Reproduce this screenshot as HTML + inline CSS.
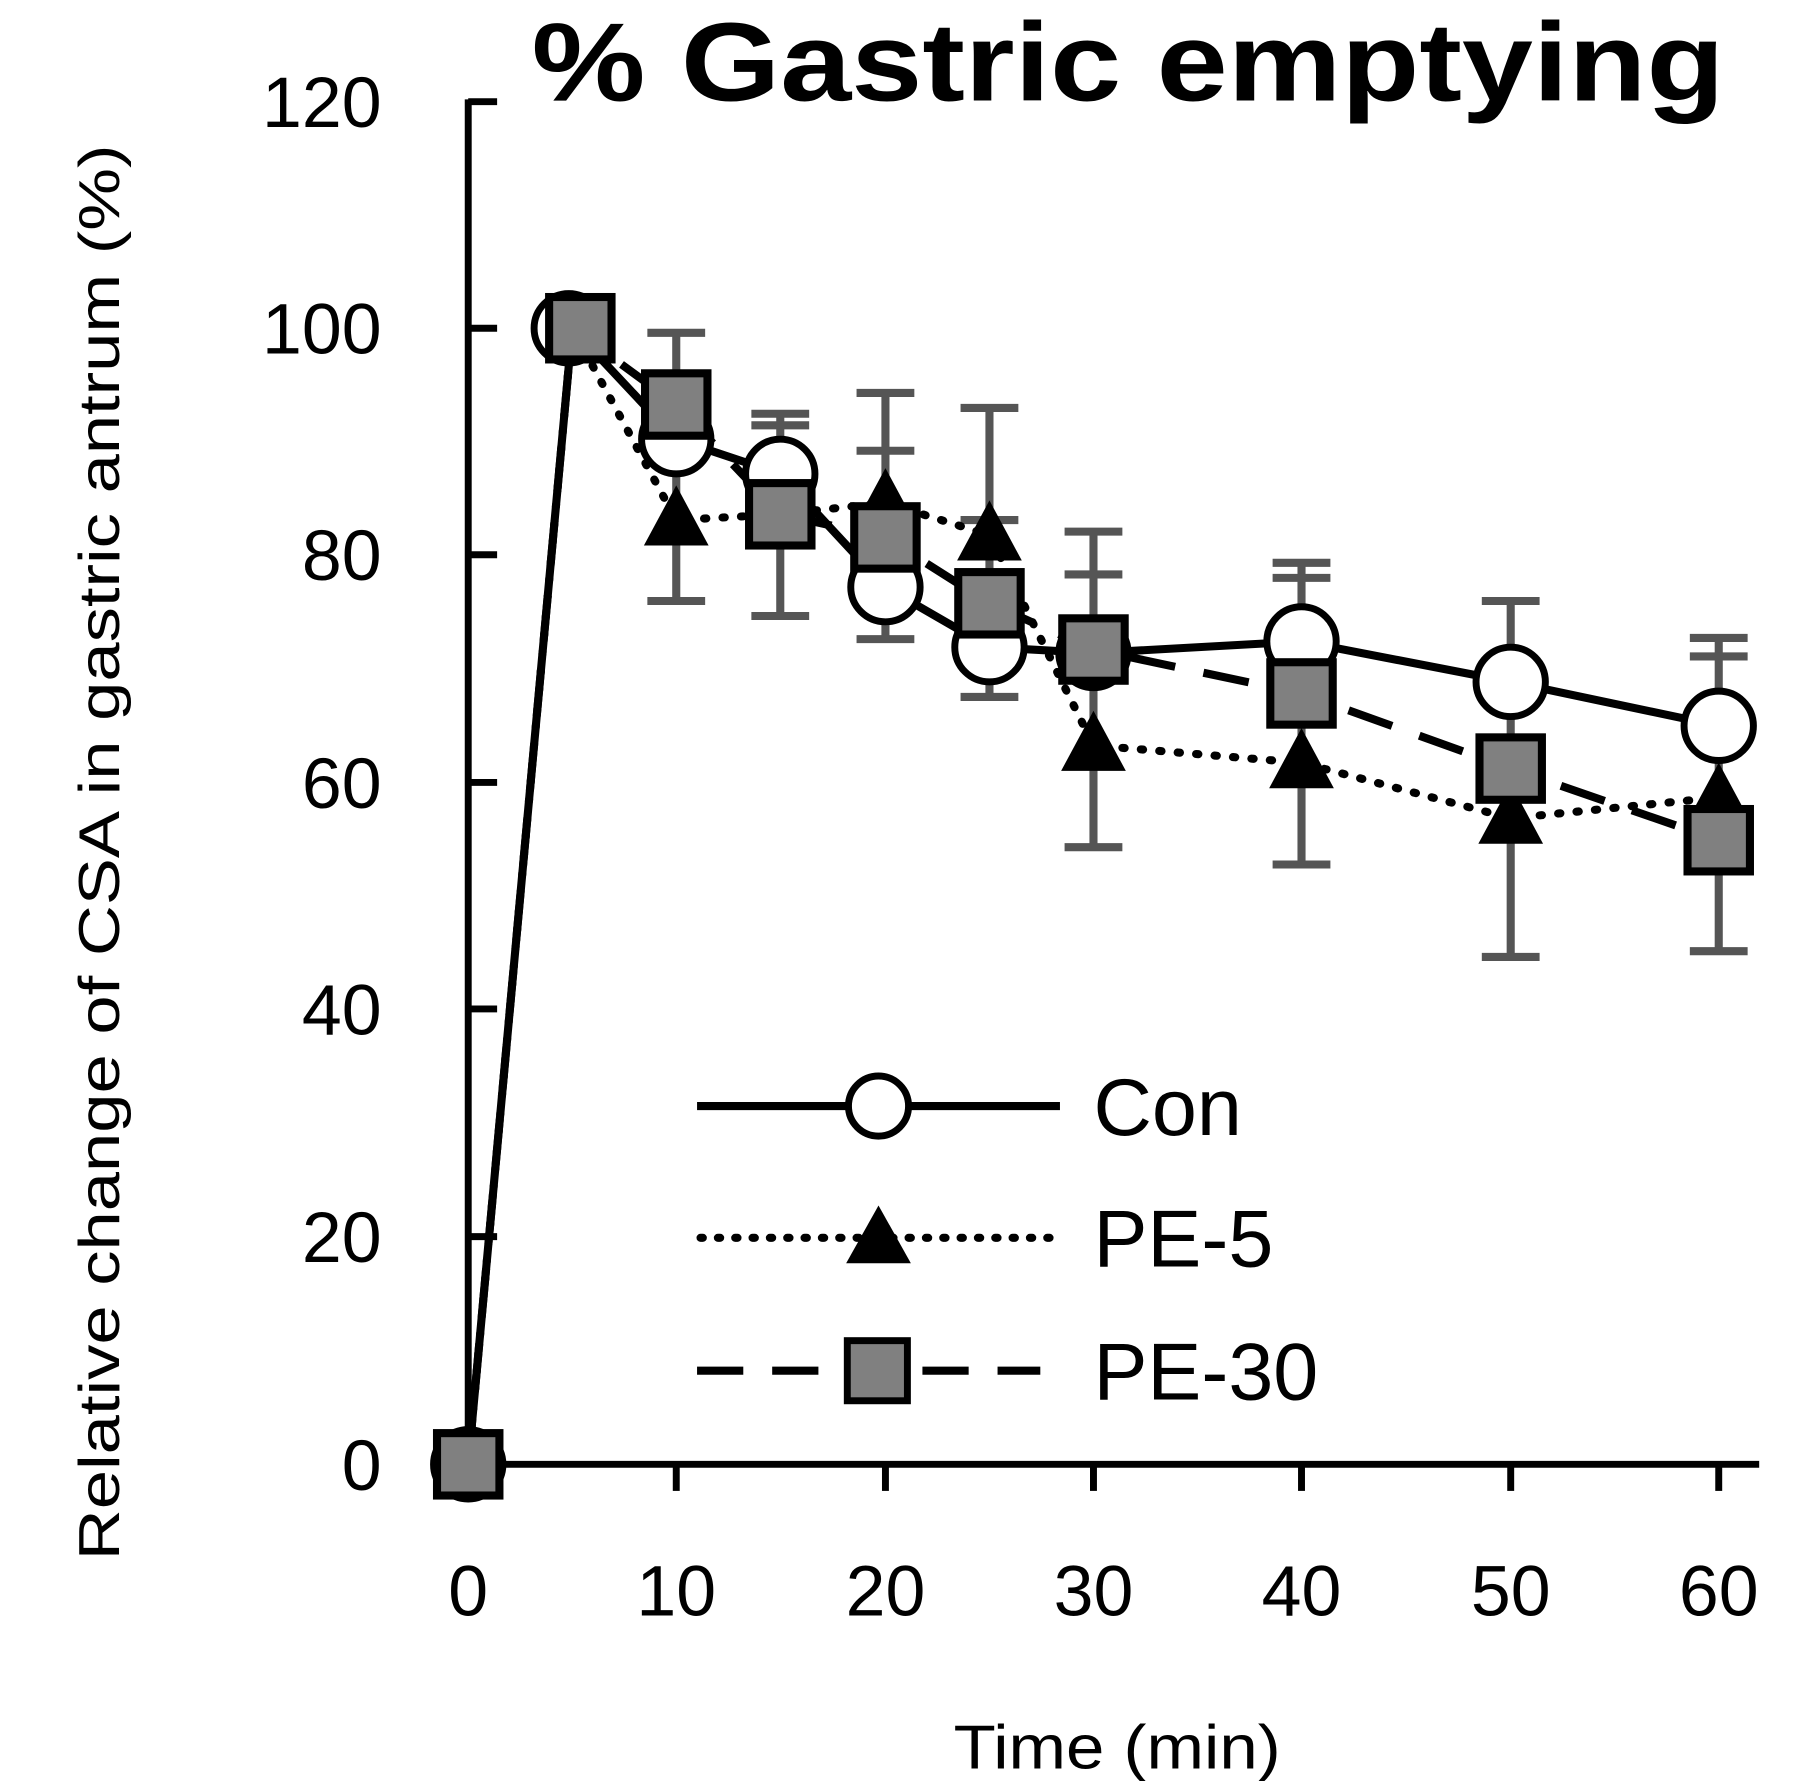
<!DOCTYPE html>
<html><head><style>html,body{margin:0;padding:0;background:#fff}svg{display:block}</style></head>
<body>
<svg width="1794" height="1781" viewBox="0 0 1552 1541" xmlns="http://www.w3.org/2000/svg" font-family="Liberation Sans, Arial, sans-serif">
<rect width="1552" height="1541" fill="#fff"/>
<text x="460" y="87" font-size="96" font-weight="bold" textLength="1032" lengthAdjust="spacingAndGlyphs">% Gastric emptying</text>
<!-- axes -->
<g stroke="#000" stroke-width="6" fill="none">
<line x1="405" y1="86" x2="405" y2="1267"/>
<line x1="403" y1="1267" x2="1522" y2="1267"/>
<line x1="405" y1="88" x2="430" y2="88"/>
<line x1="405" y1="284" x2="430" y2="284"/>
<line x1="405" y1="480" x2="430" y2="480"/>
<line x1="405" y1="677" x2="430" y2="677"/>
<line x1="405" y1="873" x2="430" y2="873"/>
<line x1="405" y1="1070" x2="430" y2="1070"/>
<line x1="585" y1="1267" x2="585" y2="1290"/>
<line x1="766" y1="1267" x2="766" y2="1290"/>
<line x1="946" y1="1267" x2="946" y2="1290"/>
<line x1="1126" y1="1267" x2="1126" y2="1290"/>
<line x1="1307" y1="1267" x2="1307" y2="1290"/>
<line x1="1487" y1="1267" x2="1487" y2="1290"/>
</g>
<g font-size="62" text-anchor="end">
<text x="330" y="110">120</text><text x="330" y="306">100</text><text x="330" y="502">80</text>
<text x="330" y="699">60</text><text x="330" y="895">40</text><text x="330" y="1092">20</text><text x="330" y="1289">0</text>
</g>
<g font-size="62" text-anchor="middle">
<text x="405" y="1398">0</text><text x="585" y="1398">10</text><text x="766" y="1398">20</text><text x="946" y="1398">30</text>
<text x="1126" y="1398">40</text><text x="1307" y="1398">50</text><text x="1487" y="1398">60</text>
</g>
<text x="825" y="1530" font-size="54" textLength="283" lengthAdjust="spacingAndGlyphs">Time (min)</text>
<text transform="translate(103,1350) rotate(-90)" font-size="50" textLength="1225" lengthAdjust="spacingAndGlyphs">Relative change of CSA in gastric antrum (%)</text>
<!-- error bars -->
<g stroke="#555" stroke-width="7" fill="none">
<path d="M585 288V520M560 288H610M560 520H610"/>
<path d="M675 358V533M650 358H700M650 368H700M650 533H700"/>
<path d="M766 340V553M741 340H791M741 390H791M741 553H791"/>
<path d="M856 353V603M831 353H881M831 450H881M831 603H881"/>
<path d="M946 460V733M921 460H971M921 497H971M921 733H971"/>
<path d="M1126 487V748M1101 487H1151M1101 500H1151M1101 748H1151"/>
<path d="M1307 520V828M1282 520H1332M1282 828H1332"/>
<path d="M1487 552V823M1462 552H1512M1462 568H1512M1462 823H1512"/>
</g>
<!-- lines -->
<polyline fill="none" stroke="#000" stroke-width="7" points="405,1267 495,284 585,380 675,410 766,508 856,560 946,565 1126,555 1307,590 1487,628"/>
<polyline fill="none" stroke="#000" stroke-width="7" stroke-dasharray="2,14" stroke-linecap="round" points="405,1267 495,284 585,450 675,445 766,435 856,463 946,645 1126,660 1307,708 1487,690"/>
<polyline fill="none" stroke="#000" stroke-width="7" stroke-dasharray="40,25" points="405,1267 495,284 585,350 675,445 766,465 856,522 946,562 1126,600 1307,665 1487,727"/>
<!-- Con circles -->
<g fill="#fff" stroke="#000" stroke-width="6">
<circle cx="405" cy="1267" r="30"/><circle cx="492" cy="284" r="30"/><circle cx="585" cy="380" r="30"/>
<circle cx="675" cy="410" r="30"/><circle cx="766" cy="508" r="30"/><circle cx="856" cy="560" r="30"/>
<circle cx="946" cy="565" r="30"/><circle cx="1126" cy="555" r="30"/><circle cx="1307" cy="590" r="30"/><circle cx="1487" cy="628" r="30"/>
</g>
<!-- PE-5 triangles -->
<g fill="#000">
<path d="M585 420L613 472H557Z"/><path d="M675 420L703 472H647Z"/><path d="M766 405L794 457H738Z"/>
<path d="M856 433L884 485H828Z"/><path d="M946 615L974 667H918Z"/><path d="M1126 630L1154 682H1098Z"/>
<path d="M1307 678L1335 730H1279Z"/><path d="M1487 660L1515 712H1459Z"/>
</g>
<!-- PE-30 squares -->
<g fill="#808080" stroke="#000" stroke-width="7">
<rect x="378" y="1240" width="54" height="54"/><rect x="475" y="257" width="54" height="54"/>
<rect x="558" y="323" width="54" height="54"/><rect x="648" y="418" width="54" height="54"/>
<rect x="739" y="438" width="54" height="54"/><rect x="829" y="495" width="54" height="54"/>
<rect x="919" y="535" width="54" height="54"/><rect x="1099" y="573" width="54" height="54"/>
<rect x="1280" y="638" width="54" height="54"/><rect x="1460" y="700" width="54" height="54"/>
</g>
<!-- legend -->
<line x1="603" y1="957" x2="917" y2="957" stroke="#000" stroke-width="7"/>
<circle cx="760" cy="957" r="26" fill="#fff" stroke="#000" stroke-width="6"/>
<text x="946" y="982" font-size="70">Con</text>
<line x1="606" y1="1071" x2="917" y2="1071" stroke="#000" stroke-width="7" stroke-dasharray="2,13" stroke-linecap="round"/>
<path d="M760 1043L788 1093H732Z" fill="#000"/>
<text x="946" y="1096" font-size="70">PE-5</text>
<line x1="603" y1="1186" x2="900" y2="1186" stroke="#000" stroke-width="7" stroke-dasharray="40,25"/>
<rect x="733" y="1160" width="52" height="52" fill="#808080" stroke="#000" stroke-width="6"/>
<text x="946" y="1211" font-size="70">PE-30</text>
</svg>
</body></html>
